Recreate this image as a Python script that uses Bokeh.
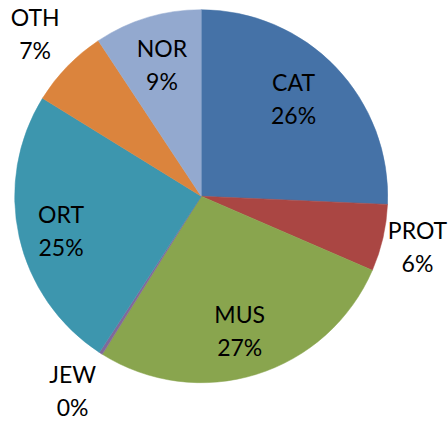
import math
from bokeh.plotting import figure
from bokeh.models import Range1d
from bokeh.core.properties import value
from bokeh.embed import file_html
from bokeh.resources import INLINE

# Data
categories = ["CAT", "PROT", "MUS", "JEW", "ORT", "OTH", "NOR"]
shares = [25.7, 5.8, 27.4, 0.3, 24.6, 6.9, 9.3]
pct_labels = ["26%", "6%", "27%", "0%", "25%", "7%", "9%"]
colors = ["#4572A7", "#AA4643", "#89A54E", "#80699B", "#3D96AE", "#DB843D", "#93A9CF"]

# Layout (styles, not data)
W, H = 448, 421
CX, CY = 200.7, H - 195.7
R = 186.5
label_dist = [0.72, 1.19, 0.74, 1.26, 0.77, 1.24, 0.73]
label_nudge = [(-4.7, 4.5), (0, -1), (-2.5, -2.8), (-2, 3.5), (0, -3), (0, 2), (0, 1)]
LINE_GAP = 16.5
FONT = "Lato"
FONT_SIZE = "23px"

p = figure(width=W, height=H, output_backend="svg", toolbar_location=None,
           x_range=Range1d(0, W), y_range=Range1d(0, H), min_border=0)
p.axis.visible = False
p.grid.visible = False
p.outline_line_color = None
p.background_fill_color = "white"
p.border_fill_color = "white"

total = sum(shares)
cum = 0.0
starts, ends = [], []
for s in shares:
    a0 = math.pi / 2 - 2 * math.pi * cum / total
    a1 = math.pi / 2 - 2 * math.pi * (cum + s) / total
    starts.append(a0)
    ends.append(a1)
    cum += s

p.wedge(x=CX, y=CY, radius=R, start_angle=starts, end_angle=ends,
        direction="clock", fill_color=colors, line_color=colors, line_width=0.5)

for i, (name, pl) in enumerate(zip(categories, pct_labels)):
    mid = (starts[i] + ends[i]) / 2
    d = R * label_dist[i]
    x = CX + d * math.cos(mid) + label_nudge[i][0]
    y = CY + d * math.sin(mid) + label_nudge[i][1]
    p.text(x=[x], y=[y + LINE_GAP], text=[name], text_align="center",
           text_baseline="middle", text_font=value(FONT), text_font_size=FONT_SIZE,
           text_color="black")
    p.text(x=[x], y=[y - LINE_GAP], text=[pl], text_align="center",
           text_baseline="middle", text_font=value(FONT), text_font_size=FONT_SIZE,
           text_color="black")

open("out.html", "w").write(file_html(p, INLINE))
